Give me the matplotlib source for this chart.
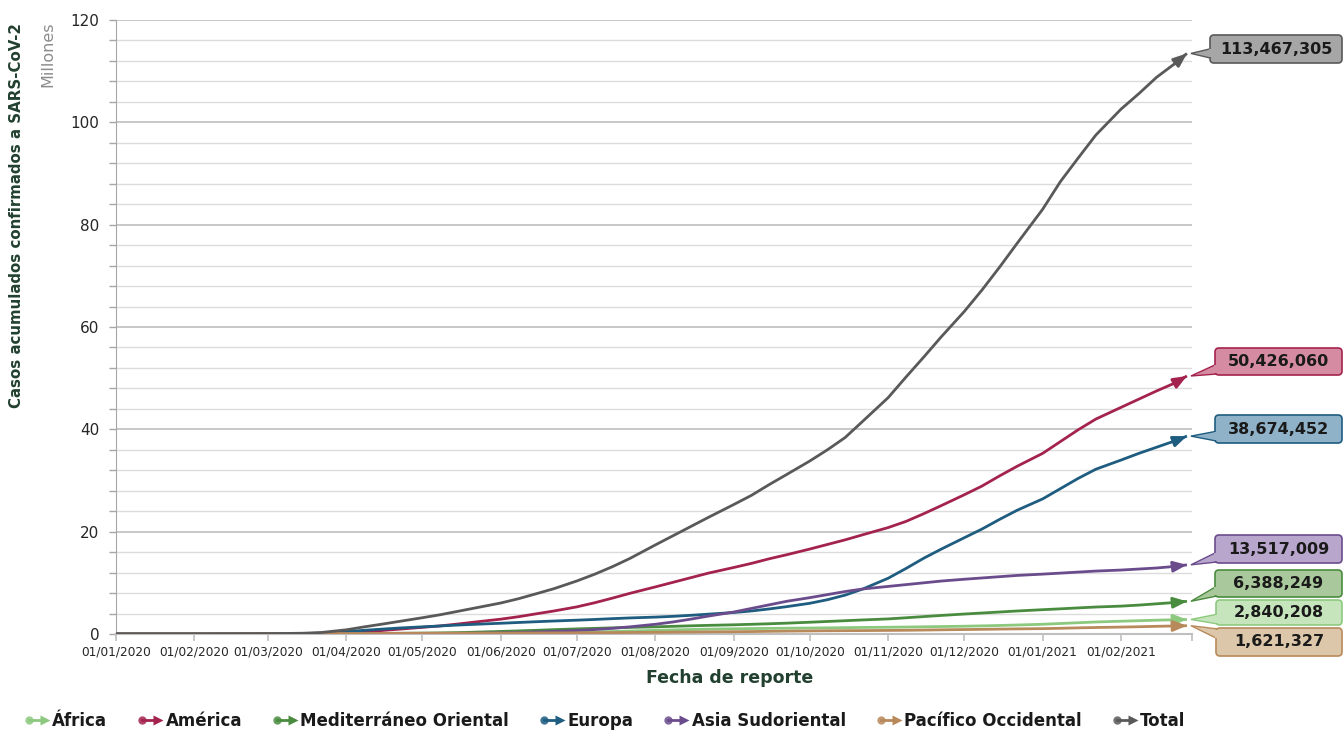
import matplotlib
matplotlib.use("Agg")
import numpy as np
import pandas as pd
import matplotlib.pyplot as plt
import matplotlib.dates as mdates
from matplotlib.patches import FancyBboxPatch, Polygon, Rectangle
from matplotlib.transforms import IdentityTransform
from matplotlib.legend_handler import HandlerBase
from matplotlib.lines import Line2D
from matplotlib.ticker import MultipleLocator

# ---- data (cumulative confirmed cases, millions) ----
dates = [
    "2020-01-01", "2020-01-15", "2020-02-01", "2020-02-15",
    "2020-03-01", "2020-03-08", "2020-03-15", "2020-03-22",
    "2020-04-01", "2020-04-08", "2020-04-15", "2020-04-22",
    "2020-05-01", "2020-05-08", "2020-05-15", "2020-05-22",
    "2020-06-01", "2020-06-08", "2020-06-15", "2020-06-22",
    "2020-07-01", "2020-07-08", "2020-07-15", "2020-07-22",
    "2020-08-01", "2020-08-08", "2020-08-15", "2020-08-22",
    "2020-09-01", "2020-09-08", "2020-09-15", "2020-09-22",
    "2020-10-01", "2020-10-08", "2020-10-15", "2020-10-22",
    "2020-11-01", "2020-11-08", "2020-11-15", "2020-11-22",
    "2020-12-01", "2020-12-08", "2020-12-15", "2020-12-22",
    "2021-01-01", "2021-01-08", "2021-01-15", "2021-01-22",
    "2021-02-01", "2021-02-08", "2021-02-15", "2021-02-22",
    "2021-02-27",
]

africa = [0, 0, 0, 0,
          0.00001, 0.00005, 0.0003, 0.0015,
          0.004, 0.008, 0.013, 0.02,
          0.033, 0.045, 0.06, 0.08,
          0.11, 0.14, 0.18, 0.23,
          0.31, 0.39, 0.48, 0.58,
          0.71, 0.80, 0.88, 0.95,
          1.02, 1.06, 1.10, 1.13,
          1.17, 1.20, 1.24, 1.28,
          1.32, 1.36, 1.41, 1.46,
          1.52, 1.59, 1.67, 1.76,
          1.90, 2.05, 2.20, 2.35,
          2.50, 2.60, 2.70, 2.78,
          2.840208]
america = [0, 0, 0.00001, 0.00002,
           0.0001, 0.0007, 0.004, 0.04,
           0.19, 0.44, 0.68, 0.95,
           1.30, 1.58, 1.95, 2.35,
           2.90, 3.38, 3.95, 4.50,
           5.30, 6.10, 7.00, 7.95,
           9.20, 10.1, 11.0, 11.9,
           13.0, 13.8, 14.7, 15.5,
           16.6, 17.5, 18.4, 19.4,
           20.8, 22.0, 23.5, 25.1,
           27.2, 28.9, 30.9, 32.8,
           35.3, 37.6, 39.9, 42.0,
           44.3, 45.9, 47.5, 49.0,
           50.426060]
mediterraneo = [0, 0, 0, 0.00001,
                0.001, 0.006, 0.015, 0.03,
                0.06, 0.085, 0.11, 0.14,
                0.17, 0.21, 0.27, 0.36,
                0.50, 0.61, 0.72, 0.85,
                1.00, 1.10, 1.20, 1.29,
                1.40, 1.50, 1.60, 1.69,
                1.80, 1.90, 2.00, 2.12,
                2.30, 2.45, 2.60, 2.75,
                2.95, 3.17, 3.40, 3.63,
                3.90, 4.10, 4.30, 4.50,
                4.75, 4.92, 5.10, 5.27,
                5.45, 5.65, 5.90, 6.15,
                6.388249]
europa = [0, 0, 0, 0.00005,
          0.002, 0.01, 0.07, 0.18,
          0.47, 0.72, 0.95, 1.17,
          1.40, 1.57, 1.75, 1.90,
          2.10, 2.25, 2.40, 2.54,
          2.70, 2.84, 3.00, 3.14,
          3.30, 3.45, 3.65, 3.88,
          4.20, 4.50, 4.90, 5.35,
          6.00, 6.70, 7.60, 8.80,
          10.9, 12.8, 14.8, 16.6,
          18.8, 20.5, 22.4, 24.2,
          26.4, 28.4, 30.4, 32.2,
          34.0, 35.3, 36.5, 37.7,
          38.674452]
asia_sudoriental = [0, 0, 0, 0,
                    0.0001, 0.0001, 0.0002, 0.0008,
                    0.003, 0.007, 0.015, 0.025,
                    0.045, 0.07, 0.10, 0.15,
                    0.22, 0.30, 0.40, 0.52,
                    0.68, 0.87, 1.10, 1.40,
                    1.90, 2.35, 2.90, 3.50,
                    4.30, 5.00, 5.70, 6.40,
                    7.10, 7.70, 8.30, 8.80,
                    9.30, 9.65, 10.0, 10.35,
                    10.7, 10.95, 11.2, 11.45,
                    11.7, 11.9, 12.1, 12.3,
                    12.5, 12.7, 12.9, 13.2,
                    13.517009]
pacifico = [0, 0.0001, 0.012, 0.05,
            0.08, 0.081, 0.083, 0.088,
            0.10, 0.11, 0.12, 0.135,
            0.15, 0.155, 0.16, 0.17,
            0.18, 0.19, 0.20, 0.215,
            0.23, 0.25, 0.27, 0.30,
            0.33, 0.36, 0.39, 0.42,
            0.45, 0.48, 0.52, 0.56,
            0.60, 0.63, 0.65, 0.67,
            0.70, 0.73, 0.77, 0.82,
            0.87, 0.91, 0.96, 1.00,
            1.05, 1.12, 1.20, 1.27,
            1.35, 1.42, 1.50, 1.57,
            1.621327]
total = [0, 0.0001, 0.012, 0.051,
         0.087, 0.106, 0.153, 0.29,
         0.82, 1.39, 1.92, 2.47,
         3.18, 3.76, 4.43, 5.10,
         6.06, 6.90, 7.87, 8.86,
         10.36, 11.67, 13.14, 14.77,
         17.4, 19.2, 21.0, 22.8,
         25.3, 27.1, 29.2, 31.2,
         33.8, 36.0, 38.4, 41.6,
         46.2, 50.2, 54.1, 58.1,
         63.0, 67.2, 71.7, 76.4,
         83.0, 88.4, 93.0, 97.5,
         102.6, 105.6, 108.8, 111.4,
         113.467305]

names = ["África", "América", "Mediterráneo Oriental", "Europa",
         "Asia Sudoriental", "Pacífico Occidental", "Total"]
values = [africa, america, mediterraneo, europa, asia_sudoriental, pacifico, total]

line_colors = ["#8cc97f", "#a4234e", "#4a8c3f", "#1e5c80", "#6a4c8c", "#b8895a", "#595959"]
box_fill = ["#c6e5bd", "#d58ca2", "#a9c99c", "#8fb2c8", "#b8a6cc", "#dcc7aa", "#a6a6a6"]
box_edge = ["#8cc97f", "#a4234e", "#4a8c3f", "#1e5c80", "#6a4c8c", "#b8895a", "#595959"]
# callout boxes (left, top, right, bottom) in pixels from the top-left corner
box_px = [(1216, 600, 1342, 625), (1215, 348, 1342, 375), (1215, 570, 1342, 597),
          (1215, 415, 1342, 443), (1215, 535, 1342, 563), (1216, 628, 1342, 656),
          (1210, 35, 1342, 63)]

W, H = 1343, 732
fig = plt.figure(figsize=(W / 100, H / 100), dpi=100)
ax = fig.add_axes([116 / W, 1 - 634 / H, (1192 - 116) / W, (634 - 20) / H])

x = np.array(dates, dtype="datetime64[D]")
lines = []
for name, v, c in zip(names, values, line_colors):
    (ln,) = ax.plot(x, v, color=c, lw=2.0, label=name, zorder=3,
                    solid_joinstyle="round", solid_capstyle="butt")
    lines.append(ln)
    ax.annotate("", xy=(x[-1], v[-1]), xytext=(x[-2], v[-2]),
                arrowprops=dict(arrowstyle="-|>,head_length=0.5,head_width=0.2",
                                color=c, lw=2.0, mutation_scale=16,
                                shrinkA=0, shrinkB=0), zorder=3)

# axes styling
ax.set_ylim(0, 120)
ax.set_xlim(np.datetime64("2020-01-01"), np.datetime64("2021-03-01"))
ax.yaxis.set_major_locator(MultipleLocator(20))
ax.yaxis.set_minor_locator(MultipleLocator(4))
ax.grid(which="major", axis="y", color="#bfbfbf", lw=1.2, zorder=0)
ax.grid(which="minor", axis="y", color="#dcdcdc", lw=1.0, zorder=0)
ax.set_axisbelow(True)
for s in ("top", "right"):
    ax.spines[s].set_visible(False)
ax.spines["left"].set_color("#a6a6a6")
ax.spines["bottom"].set_color("#bfbfbf")
ax.spines["bottom"].set_linewidth(1.5)

month_starts = pd.date_range("2020-01-01", "2021-03-01", freq="MS")
ax.set_xticks(month_starts.values)
ax.set_xticklabels([d.strftime("%d/%m/%Y") for d in month_starts[:-1]] + [""])
ax.tick_params(axis="x", length=5, color="#bfbfbf", width=1.2, labelsize=8.7,
               labelcolor="#262626", pad=3)
ax.tick_params(axis="y", which="both", length=5, color="#a6a6a6", width=1,
               labelsize=11, labelcolor="#262626", pad=7)

# axis titles
fig.text(17 / W, 1 - 216 / H, "Casos acumulados confirmados a SARS-CoV-2", rotation=90,
         ha="center", va="center", fontweight="bold", fontsize=10.8, color="#22402f")
fig.text(48 / W, 1 - 54 / H, "Millones", rotation=90, ha="center", va="center",
         fontsize=11.5, color="#8c8c8c")
fig.text(730 / W, 1 - 678 / H, "Fecha de reporte", ha="center", va="center",
         fontweight="bold", fontsize=12.5, color="#22402f")

# value callouts
fig.canvas.draw()
ident = IdentityTransform()
for v, fill, edge, (l, t, r, b) in zip(values, box_fill, box_edge, box_px):
    tx, ty = ax.transData.transform((mdates.date2num(x[-1]), v[-1]))
    tx += 4
    by = min(max(ty, H - b + 6), H - t - 6)
    wedge = Polygon([(tx, ty), (l + 2, by - 5), (l + 2, by + 5)], closed=True,
                    fc=fill, ec=edge, lw=1.0, transform=ident, zorder=10)
    fig.add_artist(wedge)
    box = FancyBboxPatch((l, H - b), r - l, b - t, boxstyle="round,pad=0,rounding_size=4",
                         fc=fill, ec=edge, lw=1.2, transform=ident, zorder=11)
    fig.add_artist(box)
    mask = Rectangle((l - 1, by - 4), 4, 8, fc=fill, ec="none", transform=ident, zorder=12)
    fig.add_artist(mask)
    fig.text((l + r) / 2, H - (t + b) / 2, f"{round(v[-1] * 1e6):,}", transform=ident,
             ha="center", va="center", fontweight="bold", fontsize=11.5,
             color="#1a1a1a", zorder=13)


# legend with dot-and-arrow keys
class DotArrowHandler(HandlerBase):
    def create_artists(self, legend, orig_handle, xdescent, ydescent, width, height,
                       fontsize, trans):
        c = orig_handle.get_color()
        y = height / 2 - ydescent
        x0 = -xdescent + 3
        x1 = -xdescent + width
        seg = Line2D([x0, x1 - 4], [y, y], color=c, lw=2, transform=trans)
        dot = Line2D([x0], [y], marker="o", ms=6, color=c, mec="none", alpha=0.85,
                     transform=trans)
        head = Line2D([x1 - 3], [y], marker=">", ms=7, color=c, mec="none", transform=trans)
        return [seg, dot, head]


fig.legend(lines, names, handler_map={Line2D: DotArrowHandler()}, ncol=7, loc="center",
           bbox_to_anchor=(605 / W, 1 - 721 / H), frameon=False,
           prop=dict(weight="bold", size=12), handlelength=1.45, handletextpad=0.2,
           columnspacing=1.85, labelcolor="#1a1a1a")

fig.savefig("out.png", dpi=100)
